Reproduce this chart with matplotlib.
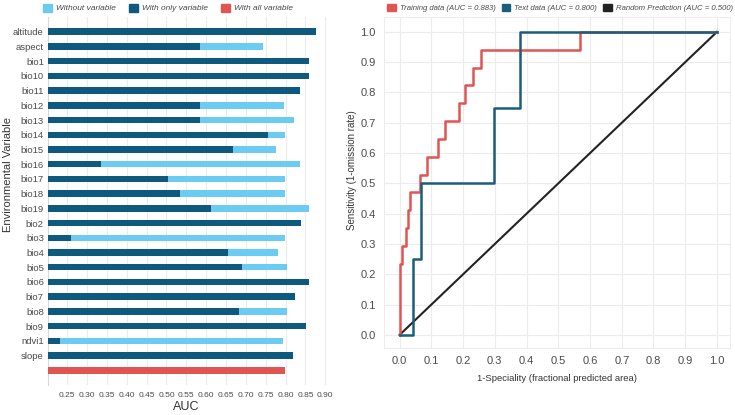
import matplotlib.pyplot as plt
from matplotlib.patches import Patch

plt.rcParams['font.family'] = ['Liberation Sans', 'DejaVu Sans']

# jackknife data
variables = ['altitude', 'aspect', 'bio1', 'bio10', 'bio11', 'bio12', 'bio13', 'bio14',
             'bio15', 'bio16', 'bio17', 'bio18', 'bio19', 'bio2', 'bio3', 'bio4', 'bio5',
             'bio6', 'bio7', 'bio8', 'bio9', 'ndvi1', 'slope']
without_var = [0.80, 0.742, 0.80, 0.80, 0.80, 0.795, 0.822, 0.798,
               0.777, 0.836, 0.798, 0.798, 0.860, 0.80, 0.798, 0.780, 0.803,
               0.80, 0.80, 0.803, 0.80, 0.793, 0.80]
only_var = [0.876, 0.585, 0.858, 0.858, 0.837, 0.585, 0.585, 0.756,
            0.667, 0.334, 0.503, 0.534, 0.613, 0.840, 0.259, 0.654, 0.690,
            0.860, 0.825, 0.682, 0.851, 0.232, 0.820]
all_var = 0.798
auc_ticks = [0.25, 0.30, 0.35, 0.40, 0.45, 0.50, 0.55, 0.60, 0.65, 0.70, 0.75, 0.80, 0.85, 0.90]

# ROC data
train_x = [0.0, 0.0, 0.0, 0.0, 0.009, 0.009, 0.02, 0.02, 0.026, 0.026, 0.033, 0.033,
           0.065, 0.065, 0.086, 0.086, 0.12, 0.12, 0.144, 0.144, 0.186, 0.186,
           0.207, 0.207, 0.231, 0.231, 0.257, 0.257, 0.567, 0.567, 1.0]
train_y = [0.0, 0.0588, 0.0588, 0.235, 0.235, 0.294, 0.294, 0.353, 0.353, 0.412, 0.412, 0.471,
           0.471, 0.529, 0.529, 0.588, 0.588, 0.647, 0.647, 0.706, 0.706, 0.765,
           0.765, 0.824, 0.824, 0.882, 0.882, 0.941, 0.941, 1.0, 1.0]
test_x = [0.0, 0.042, 0.042, 0.068, 0.068, 0.299, 0.299, 0.378, 0.378, 1.0]
test_y = [0.0, 0.0, 0.25, 0.25, 0.5, 0.5, 0.75, 0.75, 1.0, 1.0]
rand_x = [0.0, 1.0]
rand_y = [0.0, 1.0]
roc_ticks = [0.0, 0.1, 0.2, 0.3, 0.4, 0.5, 0.6, 0.7, 0.8, 0.9, 1.0]

c_light = '#6ccbf1'
c_dark = '#0d5a7e'
c_red = '#e05553'
c_line_blue = '#1d5d7c'
txt = '#4a4a4a'
grid = '#ececec'

fig = plt.figure(figsize=(7.35, 4.15), dpi=100)

# ---- left: jackknife
ax = fig.add_axes([48/735, 30/415, 282/735, 368/415])
ypos = list(range(len(variables)))
ax.barh(ypos, without_var, height=0.44, color=c_light, zorder=2)
ax.barh(ypos, only_var, height=0.44, color=c_dark, zorder=3)
ax.barh([len(variables)], [all_var], height=0.44, color=c_red, zorder=3)
ax.set_yticks(ypos + [len(variables)])
ax.set_yticklabels(variables + [''])
ax.set_ylim(len(variables) + 1, -1)
ax.set_xlim(0.2014, 0.912)
ax.set_xticks(auc_ticks)
ax.set_xticklabels(['%.2f' % t for t in auc_ticks])
ax.grid(axis='x', color=grid, linewidth=0.8, zorder=0)
ax.tick_params(axis='y', length=0, labelsize=6.8, colors=txt, pad=3)
ax.tick_params(axis='x', length=0, labelsize=6, colors=txt, pad=5)
for s in ['top', 'right', 'bottom']:
    ax.spines[s].set_visible(False)
ax.spines['left'].set_color('#d9d9d9')
ax.set_xlabel('AUC', fontsize=9, color='#333333')
ax.xaxis.set_label_coords(0.49, -0.043)
ax.set_ylabel('Environmental Variable', fontsize=8, color='#333333')
ax.yaxis.set_label_coords(-0.125, 0.571)

h1 = [Patch(color=c_light), Patch(color=c_dark), Patch(color=c_red)]
fig.legend(h1, ['Without variable', 'With only variable', 'With all variable'],
           loc='center', bbox_to_anchor=(168/735, 1 - 8/415), ncol=3, frameon=False,
           prop={'size': 6, 'style': 'italic'}, labelcolor=txt,
           handlelength=1.1, handleheight=1.1, columnspacing=1.5, handletextpad=0.5)

# ---- right: ROC
ax2 = fig.add_axes([384/735, 67/415, 346/735, 331/415])
ax2.plot(train_x, train_y, color=c_red, linewidth=1.8, label='Training data (AUC = 0.883)', zorder=3)
ax2.plot(test_x, test_y, color=c_line_blue, linewidth=1.8, label='Text data (AUC = 0.800)', zorder=4)
ax2.plot(rand_x, rand_y, color='#222222', linewidth=1.5, label='Random Prediction (AUC = 0.500)', zorder=2)
ax2.set_xlim(-0.049, 1.041)
ax2.set_ylim(-0.043, 1.049)
ax2.set_xticks(roc_ticks)
ax2.set_yticks(roc_ticks)
ax2.set_xticklabels(['%.1f' % t for t in roc_ticks])
ax2.set_yticklabels(['%.1f' % t for t in roc_ticks])
ax2.grid(color=grid, linewidth=0.8, zorder=0)
ax2.tick_params(length=0, labelsize=8, colors=txt, pad=6)
for s in ax2.spines.values():
    s.set_color('#ededed')
ax2.set_xlabel('1-Speciality (fractional predicted area)', fontsize=6.8, color='#333333')
ax2.xaxis.set_label_coords(0.5, -0.079)
ax2.set_ylabel('Sensitivity (1-omission rate)', fontsize=7, color='#333333')
ax2.yaxis.set_label_coords(-0.077, 0.538)

h2 = [Patch(color=c_red), Patch(color=c_line_blue), Patch(color='#222222')]
fig.legend(h2, ['Training data (AUC = 0.883)', 'Text data (AUC = 0.800)', 'Random Prediction (AUC = 0.500)'],
           loc='center', bbox_to_anchor=(560/735, 1 - 8/415), ncol=3, frameon=False,
           prop={'size': 5.6, 'style': 'italic'}, labelcolor=txt,
           handlelength=1.1, handleheight=1.1, columnspacing=0.8, handletextpad=0.5)

fig.savefig('out.png', dpi=100)
